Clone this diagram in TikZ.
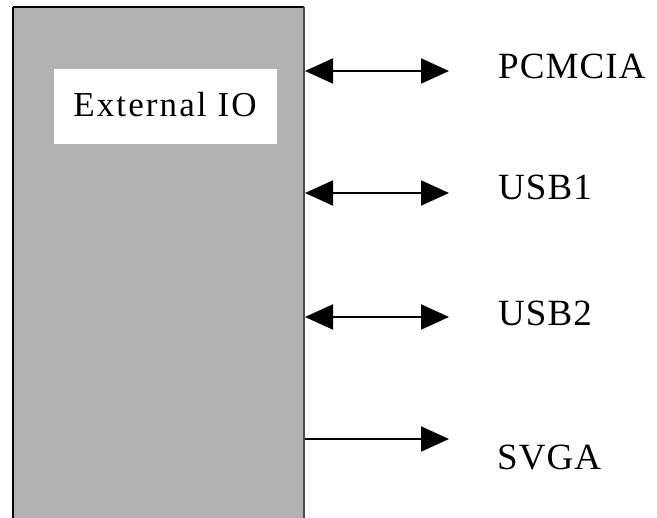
\documentclass[tikz,border=0pt]{standalone}
\usepackage{fontspec}
\setmainfont{Liberation Serif}
\usetikzlibrary{arrows.meta}
\definecolor{boxgray}{RGB}{178,178,178}
\begin{document}
\begin{tikzpicture}[x=1pt,y=-1pt,
  lbl/.style={anchor=base west,inner sep=0pt,font=\fontsize{37}{40}\selectfont\addfontfeature{LetterSpace=3}},
  conn/.style={line width=2pt},
  head/.style={-{Triangle[length=28pt,width=25pt]}},
  bihead/.style={{Triangle[length=28pt,width=25pt]}-{Triangle[length=28pt,width=25pt]}}]
\useasboundingbox (0,0) rectangle (657,518);
\begin{scope}
\clip (0,0) rectangle (657,518);
\fill[boxgray] (13,7) rectangle (304,530);
\draw[line width=2.5pt] (13,530) -- (13,7);
\draw[line width=1.5pt] (13,7) -- (304,7);
\draw[line width=1.5pt,black!70] (304,7) -- (304,530);
\end{scope}
\node[fill=white,minimum width=223pt,minimum height=75pt,inner sep=0pt] (io) at (165.5,106.5) {};
\node[anchor=base,inner sep=0pt,font=\fontsize{35}{38}\selectfont\addfontfeature{LetterSpace=6}] (iot) at (165,117) {External IO};
\coordinate (s1) at (305,71);  \coordinate (t1) at (449,71);
\coordinate (s2) at (305,193); \coordinate (t2) at (449,193);
\coordinate (s3) at (305,317); \coordinate (t3) at (449,317);
\coordinate (s4) at (305,439); \coordinate (t4) at (449,439);
\node[lbl] (l1) at (498,79) {PCMCIA};
\node[lbl] (l2) at (498,200) {USB1};
\node[lbl] (l3) at (498,326) {USB2};
\node[lbl] (l4) at (497,470) {SVGA};
\draw[conn,bihead] (s1) -- (t1);
\draw[conn,bihead] (s2) -- (t2);
\draw[conn,bihead] (s3) -- (t3);
\draw[conn,head] (s4) -- (t4);
\end{tikzpicture}
\end{document}
